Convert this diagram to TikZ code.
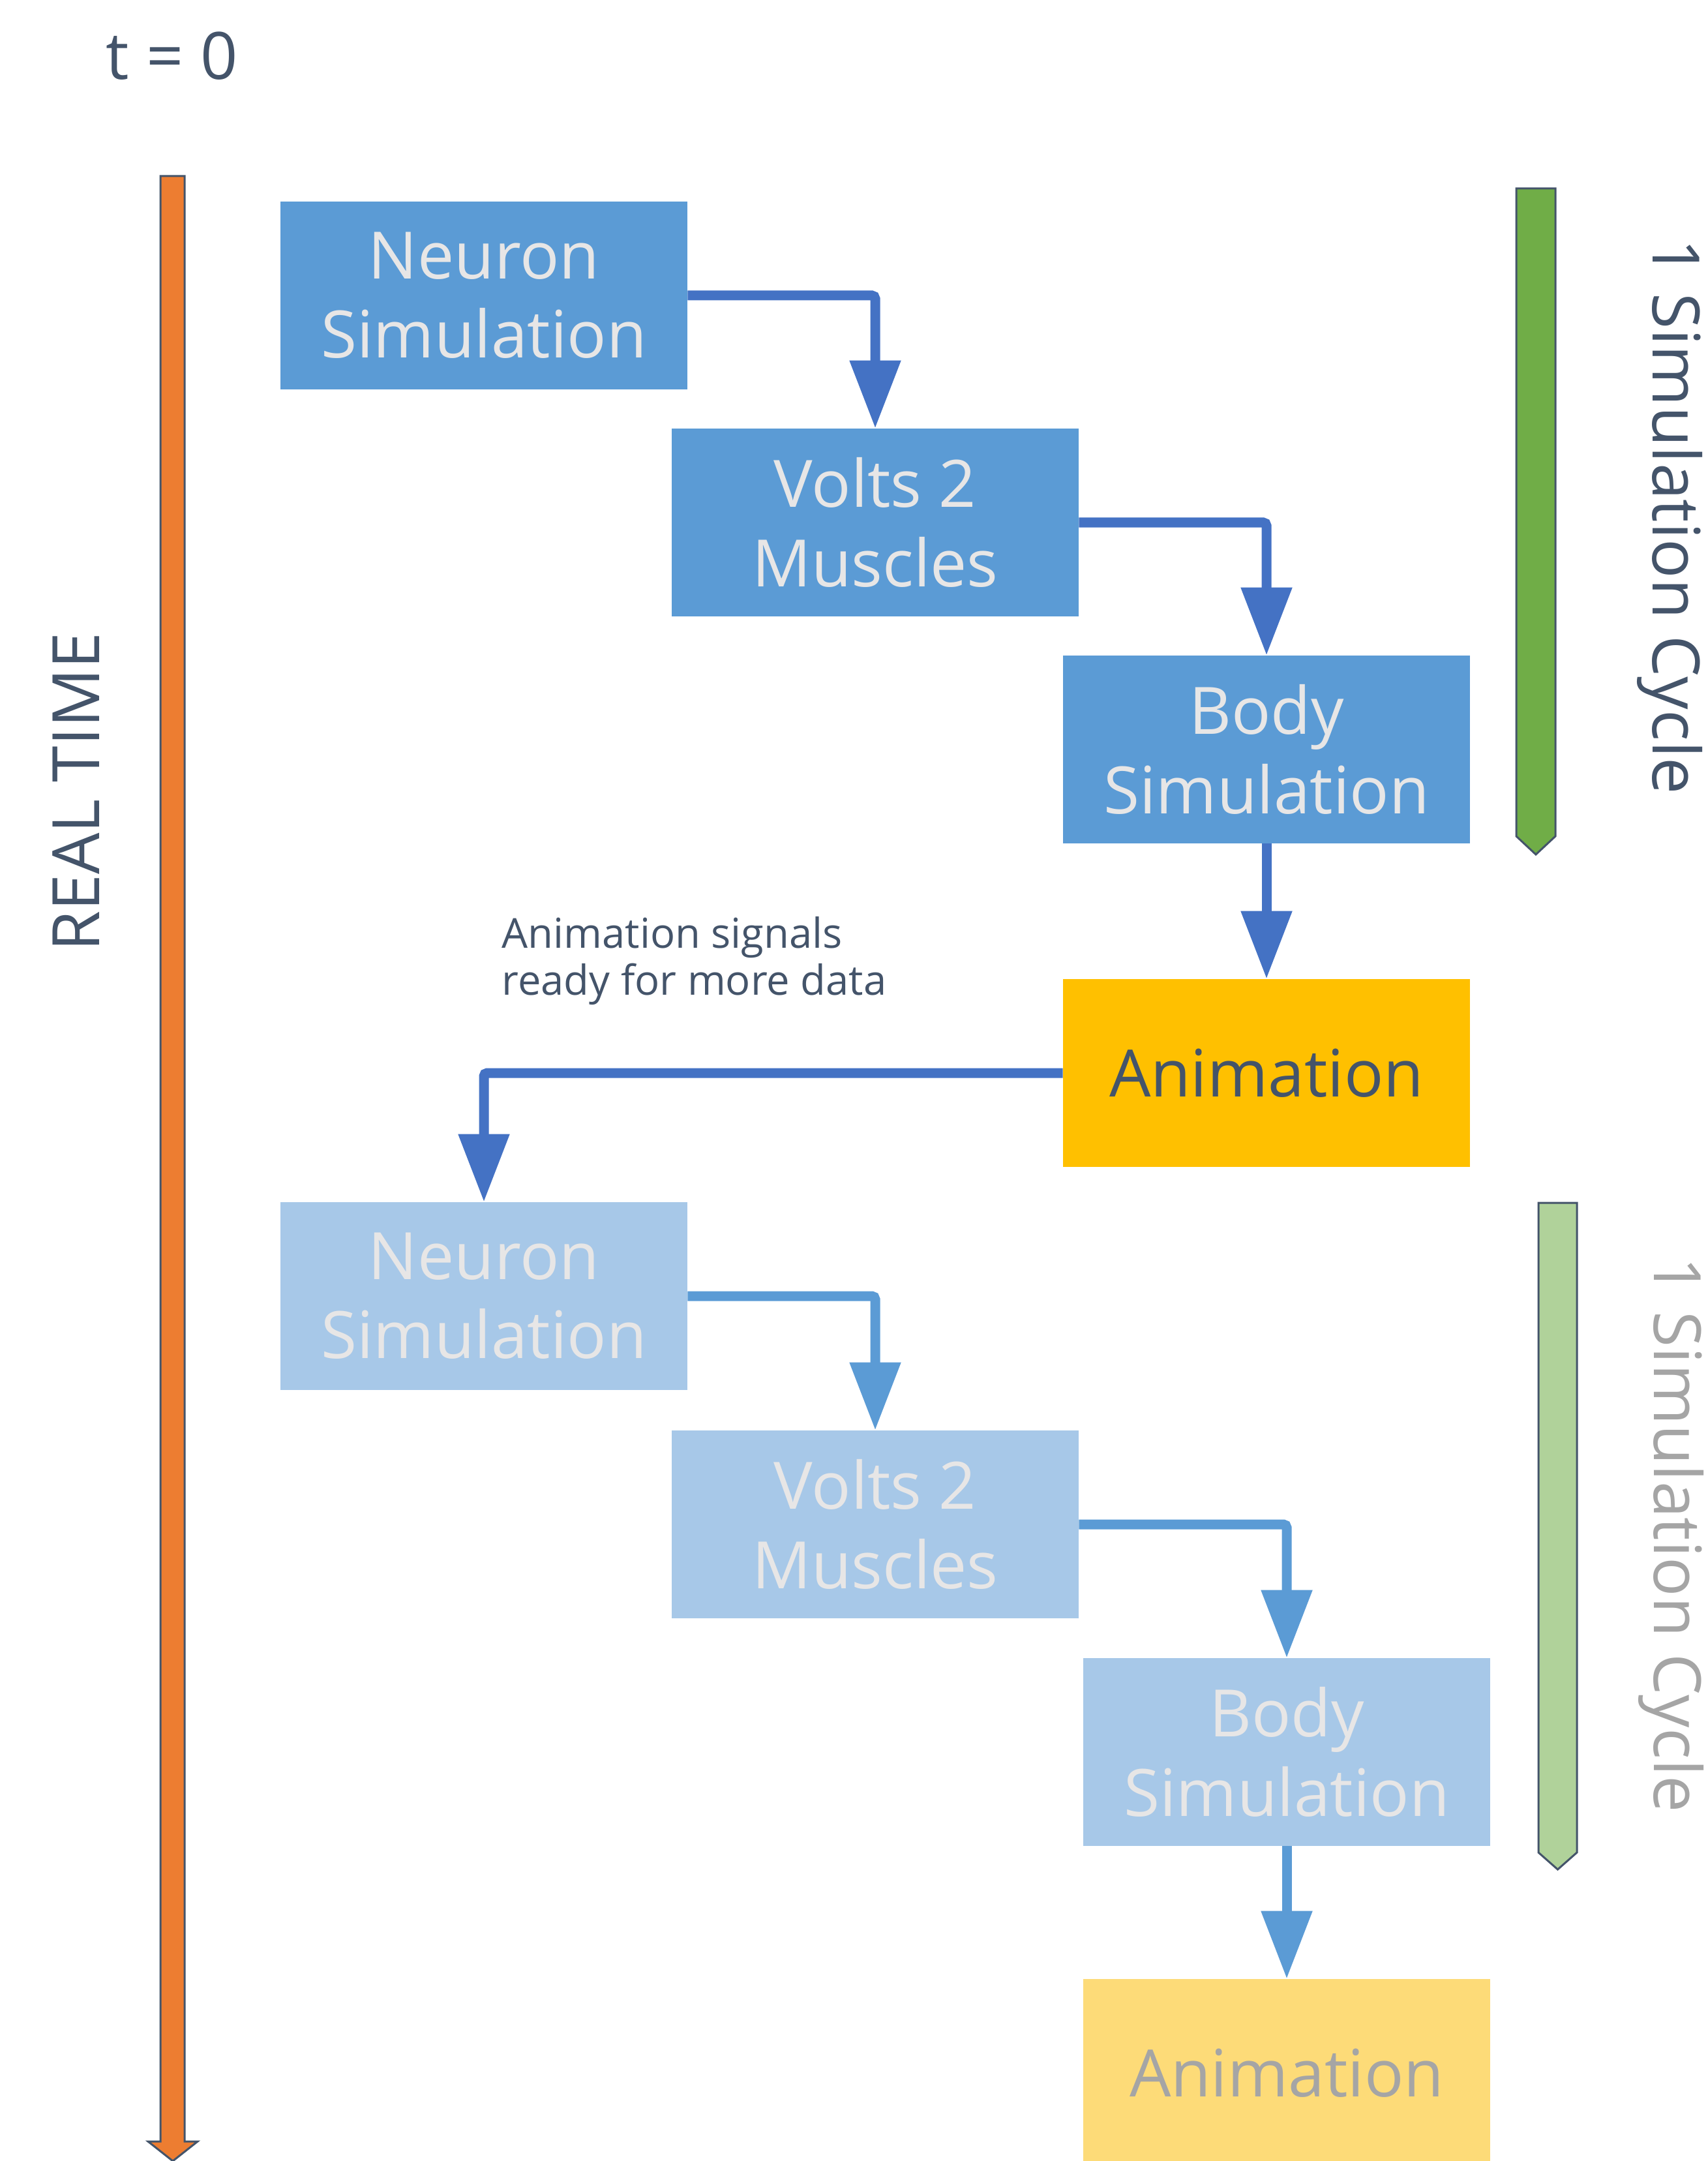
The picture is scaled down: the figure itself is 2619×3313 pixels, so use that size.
\documentclass[tikz,border=0pt]{standalone}
\usepackage{fontspec}
\setmainfont{Open Sans}
\usetikzlibrary{arrows.meta}
\definecolor{slate}{HTML}{44546A}
\definecolor{boxblue}{HTML}{5B9BD5}
\definecolor{boxbluelt}{HTML}{A7C8E8}
\definecolor{boxtext}{HTML}{E7E6E6}
\definecolor{anim}{HTML}{FFC000}
\definecolor{animlt}{HTML}{FDDB78}
\definecolor{greytext}{HTML}{A5A5A5}
\definecolor{arrdark}{HTML}{4472C4}
\definecolor{arrlight}{HTML}{5B9BD5}
\definecolor{timeorange}{HTML}{ED7D31}
\definecolor{cyclegreen}{HTML}{70AD47}
\definecolor{cyclegreenlt}{HTML}{B0D29A}
\begin{document}
\begin{tikzpicture}[x=0.01cm,y=-0.01cm,
  box/.style={minimum width=6.23cm, minimum height=2.87cm, inner sep=0pt, align=center,
    font=\fontsize{28.5}{34.5}\selectfont},
  boxdark/.style={box, fill=boxblue, text=boxtext},
  boxlight/.style={box, fill=boxbluelt, text=boxtext},
  animdark/.style={box, fill=anim, text=slate},
  animlight/.style={box, fill=animlt, text=greytext},
  conn/.style={line width=0.15cm, rounded corners=0.05cm,
    -{Triangle[width=0.75cm,length=1.04cm]}},
  conndark/.style={conn, draw=arrdark},
  connlight/.style={conn, draw=arrlight},
  bigtext/.style={font=\fontsize{28.5}{34.5}\selectfont},
  smalltext/.style={font=\fontsize{18}{21}\selectfont, text=slate, inner sep=0pt},
  barline/.style={draw=slate, line width=0.03cm, line join=miter}
]
\useasboundingbox (0,0) rectangle (2619,3313);

% title
\node[bigtext, text=slate, anchor=base, inner sep=0pt] (t0) at (264,122) {t = 0};

% real time arrow
\draw[barline, fill=timeorange] (246,270) -- (283,270) -- (283,3283) -- (303,3283)
  -- (265,3313) -- (227,3283) -- (246,3283) -- cycle;
\node[bigtext, text=slate, rotate=90, anchor=base, inner sep=0pt] (rt) at (152,1214) {REAL TIME};

% first cycle
\node[boxdark] (n1) at (742,453) {Neuron\\Simulation};
\node[boxdark] (v1) at (1342,801) {Volts 2\\Muscles};
\node[boxdark] (b1) at (1942,1149) {Body\\Simulation};
\node[animdark] (a1) at (1942,1645) {Animation};

% second cycle
\node[boxlight] (n2) at (742,1987) {Neuron\\Simulation};
\node[boxlight] (v2) at (1342,2337) {Volts 2\\Muscles};
\node[boxlight] (b2) at (1973,2686) {Body\\Simulation};
\node[animlight] (a2) at (1973,3178) {Animation};

% connectors
\draw[conndark] (n1.east) -| (v1.north);
\draw[conndark] (v1.east) -| (b1.north);
\draw[conndark] (b1.south) -- (a1.north);
\draw[conndark] (a1.west) -| (n2.north);
\draw[connlight] (n2.east) -| (v2.north);
\draw[connlight] (v2.east) -| (b2.north);
\draw[connlight] (b2.south) -- (a2.north);

% label
\node[smalltext, anchor=base west] (lbl1) at (769,1453) {Animation signals};
\node[smalltext, anchor=base west] (lbl2) at (769,1525) {ready for more data};

% cycle bars
\draw[barline, fill=cyclegreen] (2325,289) -- (2385,289) -- (2385,1282) -- (2355,1310)
  -- (2325,1282) -- cycle;
\draw[barline, fill=cyclegreenlt] (2359,1844) -- (2418,1844) -- (2418,2840) -- (2388.5,2866)
  -- (2359,2840) -- cycle;
\node[bigtext, text=slate, rotate=-90, anchor=base, inner sep=0pt] (c1) at (2534,792) {1 Simulation Cycle};
\node[bigtext, text=greytext, rotate=-90, anchor=base, inner sep=0pt] (c2) at (2536,2353) {1 Simulation Cycle};
\end{tikzpicture}
\end{document}
